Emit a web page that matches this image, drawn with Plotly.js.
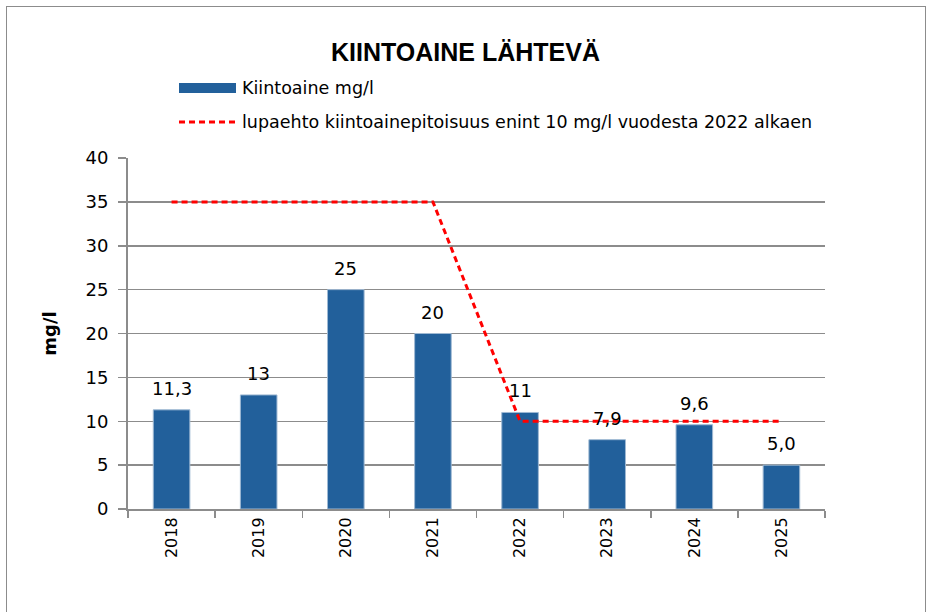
<!DOCTYPE html>
<html>
<head>
<meta charset="utf-8">
<script src="https://cdn.plot.ly/plotly-3.0.1.min.js"></script>
<style>
html,body{margin:0;padding:0;background:#fff;}
#chart{width:931px;height:612px;}
#frame{position:absolute;left:6px;top:6px;width:918px;height:620px;border:1px solid #8c8c8c;pointer-events:none;}
</style>
</head>
<body>
<div id="chart"></div>
<div id="frame"></div>
<script>
const years = ["2018","2019","2020","2021","2022","2023","2024","2025"];
const kiintoaine = [11.3, 13, 25, 20, 11, 7.9, 9.6, 5.0];
const kiintoaineLabels = ["11,3","13","25","20","11","7,9","9,6","5,0"];
const lupaehto = [35, 35, 35, 35, 10, 10, 10, 10];
const seriesNames = ["Kiintoaine mg/l", "lupaehto kiintoainepitoisuus enint 10 mg/l vuodesta 2022 alkaen"];

const FONT = "DejaVu Sans";
const BAR_COLOR = "#22609b";
const LINE_COLOR = "#ff0000";

// plot area in pixels (for placing the hand-drawn legend in paper coords)
const PL = 128, PR = 825, PT = 158, PB = 509;
const px = v => (v - PL) / (PR - PL);
const py = v => (PB - v) / (PB - PT);

const traces = [
  {
    type: "bar",
    name: seriesNames[0],
    x: years,
    y: kiintoaine,
    marker: {color: BAR_COLOR, line: {color: "#9fb9d3", width: 1}},
    hoverinfo: "x+y",
    showlegend: false
  },
  {
    type: "scatter",
    mode: "lines",
    name: seriesNames[1],
    x: years,
    y: lupaehto,
    line: {color: LINE_COLOR, width: 3, dash: "6px,4px"},
    showlegend: false
  }
];

// data labels: category axis annotations use the category index
const annotations = years.map((yr, i) => ({
  x: i, y: kiintoaine[i], xref: "x", yref: "y",
  text: kiintoaineLabels[i],
  showarrow: false,
  yanchor: "bottom",
  yshift: 9,
  font: {family: FONT, size: 18, color: "#000"}
}));

// legend texts
annotations.push(
  {xref: "paper", yref: "paper", x: px(240), y: py(88), xanchor: "left", yanchor: "middle",
   text: seriesNames[0], showarrow: false, font: {family: FONT, size: 17.5, color: "#000"}},
  {xref: "paper", yref: "paper", x: px(240), y: py(122), xanchor: "left", yanchor: "middle",
   text: seriesNames[1], showarrow: false, font: {family: FONT, size: 17.5, color: "#000"}}
);

const shapes = [
  {type: "rect", xref: "paper", yref: "paper", x0: px(179), x1: px(236), y0: py(93), y1: py(83),
   fillcolor: BAR_COLOR, line: {width: 0}},
  {type: "line", xref: "paper", yref: "paper", x0: px(179), x1: px(238), y0: py(122), y1: py(122),
   line: {color: LINE_COLOR, width: 3, dash: "6px,4px"}}
];

const layout = {
  width: 931,
  height: 612,
  paper_bgcolor: "#fff",
  plot_bgcolor: "#fff",
  margin: {l: PL, r: 931 - PR, t: PT, b: 612 - PB},
  font: {family: FONT, size: 16, color: "#000"},
  title: {
    text: "<b>KIINTOAINE LÄHTEVÄ</b>",
    font: {family: "Liberation Sans Narrow, Liberation Sans", size: 25, color: "#000"},
    x: 0.5, xanchor: "center",
    y: 1 - 52/612, yanchor: "middle"
  },
  bargap: 0.58,
  showlegend: false,
  annotations: annotations,
  shapes: shapes,
  xaxis: {
    type: "category",
    range: [-0.5, 7.5],
    tickangle: -90,
    tickfont: {family: FONT, size: 16, color: "#000"},
    ticks: "outside",
    tickson: "boundaries",
    ticklen: 7,
    tickcolor: "#8c8c8c",
    tickwidth: 1.5,
    showline: true,
    linecolor: "#8c8c8c",
    linewidth: 2,
    showgrid: false,
    fixedrange: true
  },
  yaxis: {
    range: [0, 40],
    dtick: 5,
    tick0: 0,
    ticks: "outside",
    ticklen: 8,
    tickwidth: 1.5,
    tickcolor: "#8c8c8c",
    ticklabelstandoff: 6,
    tickfont: {family: FONT, size: 18, color: "#000"},
    showline: true,
    linecolor: "#8c8c8c",
    linewidth: 2,
    showgrid: true,
    gridcolor: "#8c8c8c",
    gridwidth: 1.5,
    zeroline: false,
    title: {text: "<b>mg/l</b>", font: {family: FONT, size: 18, color: "#000"}, standoff: 24},
    fixedrange: true
  }
};

Plotly.newPlot("chart", traces, layout, {displayModeBar: false, staticPlot: true});
</script>
</body>
</html>
